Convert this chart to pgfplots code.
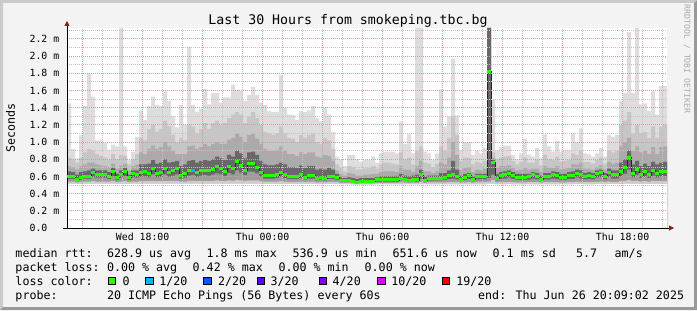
\documentclass[border=0pt]{standalone}
\usepackage{pgfplots}
\pgfplotsset{compat=1.18}
\usepackage{pgfplotstable}
\usepackage{fontspec}
\usetikzlibrary{arrows.meta}
\newfontfamily\mono{DejaVu Sans Mono}
\definecolor{bg}{HTML}{F3F3F3}
\definecolor{shadea}{HTML}{CBCBCB}
\definecolor{shadeb}{HTML}{999999}
\definecolor{mgrid}{HTML}{EE9090}
\definecolor{mingrid}{HTML}{C4C4C4}
\definecolor{arrowred}{HTML}{8E1A1A}
\definecolor{wm}{HTML}{AAAAAA}
\definecolor{sA}{HTML}{DDDDDD}
\definecolor{sB}{HTML}{C6C6C6}
\definecolor{sC}{HTML}{ABABAB}
\definecolor{sD}{HTML}{686868}
\definecolor{sE}{HTML}{9C9C9C}
\definecolor{sF}{HTML}{CDCDCD}
\definecolor{l0}{HTML}{26FF00}
\definecolor{l1}{HTML}{00B8FF}
\definecolor{l2}{HTML}{0059FF}
\definecolor{l3}{HTML}{5E00FF}
\definecolor{l4}{HTML}{7E00FF}
\definecolor{l10}{HTML}{DD00FF}
\definecolor{l19}{HTML}{FF0000}
\pgfplotstableread{
M b c d m la lb mn
1.45 0.82 0.72 0.66 0.600 0.570 0.540 0.515
0.92 0.80 0.71 0.65 0.600 0.570 0.540 0.515
0.81 0.76 0.68 0.62 0.570 0.545 0.530 0.510
1.08 0.82 0.72 0.65 0.590 0.560 0.535 0.512
1.42 0.88 0.74 0.66 0.605 0.575 0.540 0.515
1.80 0.92 0.76 0.67 0.600 0.570 0.540 0.515
1.53 0.90 0.76 0.69 0.644 0.595 0.545 0.515
1.02 0.86 0.74 0.67 0.617 0.585 0.540 0.515
1.02 0.84 0.73 0.67 0.617 0.585 0.540 0.515
0.99 0.82 0.72 0.67 0.617 0.585 0.540 0.515
0.91 0.80 0.71 0.65 0.600 0.570 0.540 0.515
0.97 0.86 0.75 0.70 0.652 0.600 0.545 0.515
0.95 0.80 0.69 0.63 0.586 0.560 0.535 0.512
2.33 0.85 0.73 0.67 0.625 0.585 0.540 0.515
0.95 0.84 0.75 0.70 0.656 0.605 0.545 0.515
0.79 0.74 0.67 0.62 0.586 0.560 0.535 0.512
0.89 0.80 0.72 0.67 0.633 0.590 0.540 0.515
1.06 0.86 0.74 0.67 0.617 0.585 0.540 0.515
1.37 1.05 0.88 0.74 0.644 0.595 0.545 0.515
1.26 1.02 0.86 0.74 0.652 0.600 0.545 0.515
1.42 1.15 0.92 0.75 0.636 0.590 0.545 0.515
1.53 1.20 0.96 0.79 0.687 0.625 0.550 0.515
1.43 1.12 0.92 0.75 0.636 0.590 0.545 0.515
1.42 1.15 0.94 0.76 0.644 0.595 0.545 0.515
1.59 1.25 1.00 0.80 0.687 0.625 0.550 0.515
1.48 1.18 0.95 0.76 0.648 0.595 0.545 0.515
1.30 1.08 0.90 0.77 0.667 0.610 0.550 0.515
1.17 1.00 0.86 0.78 0.687 0.625 0.550 0.515
1.43 1.05 0.86 0.72 0.609 0.575 0.540 0.515
1.20 1.02 0.86 0.74 0.629 0.585 0.540 0.515
2.11 1.20 0.95 0.78 0.667 0.610 0.550 0.515
1.43 1.18 0.96 0.79 0.671 0.615 0.550 0.515
1.35 1.10 0.92 0.76 0.644 0.595 0.545 0.515
1.39 1.15 0.94 0.78 0.664 0.610 0.550 0.515
1.62 1.22 0.98 0.79 0.675 0.615 0.550 0.515
1.44 1.15 0.95 0.78 0.664 0.610 0.550 0.515
1.57 1.22 0.98 0.80 0.683 0.620 0.550 0.515
1.57 1.25 1.00 0.83 0.714 0.635 0.555 0.515
1.46 1.20 0.98 0.81 0.687 0.625 0.550 0.515
1.52 1.22 0.98 0.79 0.656 0.605 0.545 0.515
1.52 1.28 1.03 0.85 0.720 0.640 0.555 0.515
1.67 1.32 1.05 0.83 0.687 0.625 0.550 0.515
1.61 1.35 1.10 0.90 0.770 0.670 0.560 0.515
1.60 1.32 1.06 0.87 0.730 0.645 0.555 0.515
1.48 1.22 1.00 0.81 0.670 0.615 0.550 0.515
1.55 1.30 1.08 0.88 0.745 0.655 0.555 0.515
1.64 1.35 1.10 0.89 0.745 0.655 0.555 0.515
1.55 1.28 1.04 0.85 0.706 0.635 0.555 0.515
1.46 1.20 0.98 0.78 0.650 0.600 0.545 0.515
1.43 1.12 0.92 0.74 0.610 0.575 0.540 0.512
1.36 1.10 0.90 0.73 0.610 0.575 0.540 0.512
1.35 1.08 0.90 0.73 0.610 0.575 0.540 0.512
1.35 1.10 0.91 0.74 0.617 0.580 0.540 0.512
1.78 1.18 0.95 0.76 0.644 0.595 0.545 0.512
1.40 1.10 0.90 0.74 0.617 0.580 0.540 0.512
1.32 1.05 0.86 0.71 0.598 0.570 0.538 0.512
1.32 1.04 0.86 0.71 0.598 0.570 0.538 0.512
1.26 1.00 0.84 0.70 0.598 0.570 0.538 0.512
1.36 1.08 0.88 0.73 0.617 0.580 0.540 0.512
1.35 1.05 0.86 0.70 0.590 0.565 0.535 0.512
1.37 1.08 0.88 0.72 0.609 0.575 0.540 0.512
1.42 1.10 0.88 0.72 0.609 0.575 0.540 0.512
1.28 1.00 0.83 0.68 0.578 0.555 0.532 0.510
1.24 0.98 0.82 0.69 0.586 0.560 0.535 0.510
1.40 1.05 0.85 0.68 0.575 0.555 0.532 0.510
1.32 1.02 0.84 0.70 0.598 0.570 0.538 0.510
1.12 0.92 0.78 0.68 0.598 0.570 0.538 0.510
0.83 0.74 0.67 0.63 0.586 0.560 0.535 0.510
0.79 0.70 0.63 0.59 0.551 0.535 0.522 0.508
0.72 0.66 0.61 0.58 0.551 0.535 0.522 0.508
0.85 0.72 0.64 0.59 0.555 0.537 0.523 0.508
0.85 0.71 0.63 0.58 0.543 0.530 0.520 0.506
0.80 0.68 0.61 0.57 0.532 0.522 0.514 0.504
0.77 0.68 0.61 0.58 0.547 0.532 0.520 0.506
0.79 0.69 0.62 0.58 0.547 0.532 0.520 0.506
0.79 0.70 0.62 0.58 0.547 0.532 0.520 0.506
0.83 0.72 0.63 0.58 0.547 0.532 0.520 0.506
0.76 0.69 0.63 0.59 0.559 0.540 0.525 0.508
0.87 0.74 0.65 0.60 0.559 0.540 0.525 0.508
0.89 0.76 0.66 0.60 0.559 0.540 0.525 0.508
0.89 0.76 0.66 0.60 0.559 0.540 0.525 0.508
0.89 0.75 0.66 0.60 0.559 0.540 0.525 0.508
0.87 0.74 0.65 0.60 0.559 0.540 0.525 0.508
1.24 0.88 0.72 0.63 0.580 0.555 0.530 0.508
0.98 0.80 0.68 0.61 0.570 0.548 0.528 0.508
1.09 0.82 0.68 0.60 0.555 0.537 0.523 0.508
0.87 0.74 0.65 0.61 0.570 0.548 0.528 0.508
2.33 0.90 0.72 0.62 0.559 0.540 0.525 0.508
2.33 0.95 0.78 0.68 0.617 0.575 0.535 0.508
0.89 0.76 0.66 0.60 0.555 0.537 0.523 0.508
0.87 0.75 0.66 0.61 0.578 0.553 0.530 0.508
0.79 0.71 0.64 0.61 0.578 0.553 0.530 0.508
0.87 0.75 0.66 0.61 0.578 0.553 0.530 0.508
1.61 0.95 0.76 0.64 0.578 0.553 0.530 0.508
1.18 0.90 0.74 0.64 0.590 0.560 0.532 0.508
1.30 1.05 0.82 0.67 0.609 0.570 0.535 0.508
1.97 1.30 1.00 0.78 0.617 0.575 0.535 0.508
1.31 1.08 0.85 0.68 0.598 0.565 0.533 0.508
0.91 0.78 0.67 0.61 0.570 0.548 0.528 0.508
1.00 0.82 0.70 0.63 0.590 0.560 0.532 0.508
1.00 0.82 0.71 0.64 0.609 0.570 0.535 0.508
0.85 0.74 0.65 0.60 0.570 0.548 0.528 0.508
0.90 0.77 0.68 0.63 0.598 0.565 0.533 0.508
0.87 0.76 0.67 0.63 0.598 0.565 0.533 0.508
0.93 0.78 0.69 0.63 0.598 0.565 0.533 0.508
2.33 2.33 2.33 2.33 1.820 0.580 0.540 0.515
1.49 0.88 0.82 0.79 0.760 0.620 0.560 0.515
0.91 0.80 0.70 0.63 0.578 0.553 0.530 0.508
0.94 0.82 0.72 0.65 0.609 0.570 0.535 0.508
0.96 0.83 0.72 0.66 0.617 0.575 0.535 0.508
0.96 0.84 0.73 0.67 0.633 0.585 0.538 0.510
0.85 0.78 0.70 0.65 0.609 0.570 0.535 0.508
0.80 0.74 0.67 0.63 0.586 0.560 0.532 0.508
0.87 0.77 0.68 0.63 0.590 0.560 0.532 0.508
1.04 0.82 0.70 0.63 0.590 0.560 0.532 0.508
0.85 0.76 0.68 0.63 0.594 0.562 0.533 0.508
0.83 0.76 0.69 0.65 0.617 0.575 0.535 0.508
0.93 0.79 0.69 0.64 0.598 0.565 0.533 0.508
0.81 0.73 0.66 0.61 0.570 0.548 0.528 0.508
1.09 0.85 0.72 0.64 0.598 0.565 0.533 0.508
0.95 0.80 0.70 0.64 0.598 0.565 0.533 0.508
0.89 0.79 0.70 0.66 0.617 0.575 0.535 0.508
1.01 0.83 0.72 0.65 0.609 0.570 0.535 0.508
0.89 0.77 0.68 0.63 0.590 0.560 0.532 0.508
0.91 0.78 0.69 0.63 0.590 0.560 0.532 0.508
0.91 0.79 0.70 0.65 0.609 0.570 0.535 0.508
1.10 0.87 0.74 0.66 0.609 0.570 0.535 0.508
1.00 0.85 0.74 0.68 0.640 0.590 0.540 0.510
1.16 0.90 0.76 0.67 0.617 0.575 0.535 0.510
0.87 0.77 0.69 0.64 0.598 0.565 0.533 0.508
0.86 0.77 0.69 0.65 0.609 0.570 0.535 0.508
0.83 0.75 0.68 0.64 0.598 0.565 0.533 0.508
0.87 0.79 0.71 0.67 0.633 0.585 0.538 0.510
0.93 0.82 0.73 0.68 0.644 0.592 0.540 0.510
0.83 0.75 0.68 0.64 0.598 0.565 0.533 0.508
1.08 0.90 0.77 0.69 0.644 0.592 0.540 0.510
1.06 0.88 0.75 0.67 0.617 0.575 0.535 0.510
1.08 0.90 0.76 0.67 0.617 0.575 0.535 0.510
1.48 1.20 0.95 0.76 0.652 0.600 0.545 0.512
1.57 1.25 1.00 0.80 0.700 0.630 0.550 0.515
2.28 1.35 1.05 0.90 0.820 0.680 0.560 0.515
1.57 1.10 0.90 0.74 0.636 0.590 0.545 0.512
2.33 1.20 0.95 0.78 0.679 0.620 0.550 0.515
1.44 1.10 0.88 0.72 0.617 0.580 0.540 0.512
1.45 1.12 0.90 0.75 0.652 0.600 0.545 0.512
1.36 1.05 0.86 0.72 0.617 0.580 0.540 0.512
1.59 1.18 0.94 0.77 0.667 0.610 0.550 0.512
1.32 1.05 0.86 0.74 0.636 0.590 0.545 0.512
1.65 1.18 0.94 0.76 0.652 0.600 0.545 0.512
1.65 1.20 0.95 0.77 0.656 0.605 0.545 0.512
1.65 1.20 0.95 0.77 0.656 0.605 0.545 0.512
}\smoke
\begin{document}
\begin{tikzpicture}[x=1bp,y=1bp]
\useasboundingbox (0,0) rectangle (697,310);
\fill[bg] (0,0) rectangle (697,310);
\fill[shadea] (0,0) -- (0,310) -- (697,310) -- (694,307) -- (3,307) -- (3,3) -- cycle;
\fill[shadeb] (0,0) -- (697,0) -- (697,310) -- (694,307) -- (694,3) -- (3,3) -- cycle;
\begin{axis}[
  at={(67bp,82bp)}, anchor=south west,
  scale only axis, width=600bp, height=200bp,
  xmin=0, xmax=150, ymin=0, ymax=2.328,
  axis on top,
  axis background/.style={fill=white},
  axis x line*=bottom, axis y line*=left,
  x axis line style={black, line width=0.9bp, shorten <=-4bp, shorten >=-7bp, -{Triangle[length=5bp,width=5bp,color=arrowred]}},
  y axis line style={black, line width=0.9bp, shorten >=-7bp, -{Triangle[length=5bp,width=5bp,color=arrowred]}},
  tick style={draw=none},
  xtick={3.9,18.9,33.9,48.9,63.9,78.9,93.9,108.9,123.9,138.9},
  xticklabels={,Wed 18:00,,Thu 00:00,,Thu 06:00,,Thu 12:00,,Thu 18:00},
  minor xtick={8.9,13.9,23.9,28.9,38.9,43.9,53.9,58.9,68.9,73.9,83.9,88.9,98.9,103.9,113.9,118.9,128.9,133.9,143.9,148.9},
  ytick={0,0.2,0.4,0.6,0.8,1.0,1.2,1.4,1.6,1.8,2.0,2.2},
  yticklabels={0.0,0.2 m,0.4 m,0.6 m,0.8 m,1.0 m,1.2 m,1.4 m,1.6 m,1.8 m,2.0 m,2.2 m},
  minor ytick={0.1,0.3,0.5,0.7,0.9,1.1,1.3,1.5,1.7,1.9,2.1,2.3},
  grid=both,
  major grid style={draw=mgrid, line width=1bp, dash pattern=on 1bp off 1bp},
  minor grid style={draw=mingrid, line width=1bp, dash pattern=on 1bp off 1bp},
  xticklabel style={anchor=base, inner sep=0pt, yshift=-12.7bp, font=\mono\fontsize{9.9}{11}\selectfont},
  yticklabel style={anchor=west, inner sep=0pt, xshift=-37.6bp, font=\mono\fontsize{9.9}{11}\selectfont},
]
\addplot[const plot, draw=none, fill=sA] table[x expr=\coordindex, y=M] {\smoke} \closedcycle;
\addplot[const plot, draw=none, fill=sB] table[x expr=\coordindex, y=b] {\smoke} \closedcycle;
\addplot[const plot, draw=none, fill=sC] table[x expr=\coordindex, y=c] {\smoke} \closedcycle;
\addplot[const plot, draw=none, fill=sD] table[x expr=\coordindex, y=d] {\smoke} \closedcycle;
\addplot[const plot, draw=none, fill=sE] table[x expr=\coordindex, y=la] {\smoke} \closedcycle;
\addplot[const plot, draw=none, fill=sF] table[x expr=\coordindex, y=lb] {\smoke} \closedcycle;
\addplot[const plot, draw=none, fill=white] table[x expr=\coordindex, y=mn] {\smoke} \closedcycle;
\addplot[const plot, draw=black!85, line width=0.8bp] table[x expr=\coordindex, y=m] {\smoke};
\addplot[only marks, mark=-, mark size=2bp, mark options={draw=l0, line width=3bp}] table[x expr=\coordindex+0.5, y=m] {\smoke};
\addplot[only marks, mark=-, mark size=2bp, mark options={draw=l1, line width=3bp}] coordinates {(31.5,0.671)};
\end{axis}
\begin{scope}[every node/.style={inner sep=0pt, anchor=base west}]
\node[anchor=base] at (348,285.7) {\mono\fontsize{13.3}{15}\selectfont Last 30 Hours from smokeping.tbc.bg};
\node[rotate=90, anchor=center] at (10.5,182) {\mono\fontsize{11.7}{13}\selectfont Seconds};
\node[rotate=-90, anchor=center, text=wm] at (687,251) {\mono\fontsize{8.2}{9}\selectfont RRDTOOL / TOBI OETIKER};
\tikzset{lg/.style={font=\mono\fontsize{11.7}{13}\selectfont}}
\node[lg] at (15.3,52.5) {median rtt:};
\node[lg] at (106.8,52.5) {628.9 us avg};
\node[lg] at (206.4,52.5) {1.8 ms max};
\node[lg] at (292.5,52.5) {536.9 us min};
\node[lg] at (392.5,52.5) {651.6 us now};
\node[lg] at (492.5,52.5) {0.1 ms sd};
\node[lg] at (576,52.5) {5.7};
\node[lg] at (614.5,52.5) {am/s};
\node[lg] at (15.3,38.5) {packet loss:};
\node[lg] at (106.8,38.5) {0.00 \% avg};
\node[lg] at (192.5,38.5) {0.42 \% max};
\node[lg] at (278.3,38.5) {0.00 \% min};
\node[lg] at (364.5,38.5) {0.00 \% now};
\node[lg] at (15.3,24.5) {loss color:};
\node[lg] at (15.3,10.5) {probe:};
\node[lg] at (106.8,10.5) {20 ICMP Echo Pings (56 Bytes) every 60s};
\node[lg] at (478,10.5) {end: Thu Jun 26 20:09:02 2025};
\foreach \sx/\lx/\col/\txt in {108.4/122.3/l0/0, 145.8/159.2/l1/1\slash 20, 203.6/217.9/l2/2\slash 20, 256.9/270.3/l3/3\slash 20, 319.1/332.5/l4/4\slash 20, 377.8/391.2/l10/10\slash 20, 442.2/456.1/l19/19\slash 20} {
  \filldraw[fill=\col, draw=black, line width=0.8bp] (\sx,25.5) rectangle ++(7.4,7.4);
  \node[lg] at (\lx,24.5) {\txt};
}
\end{scope}
\end{tikzpicture}
\end{document}
